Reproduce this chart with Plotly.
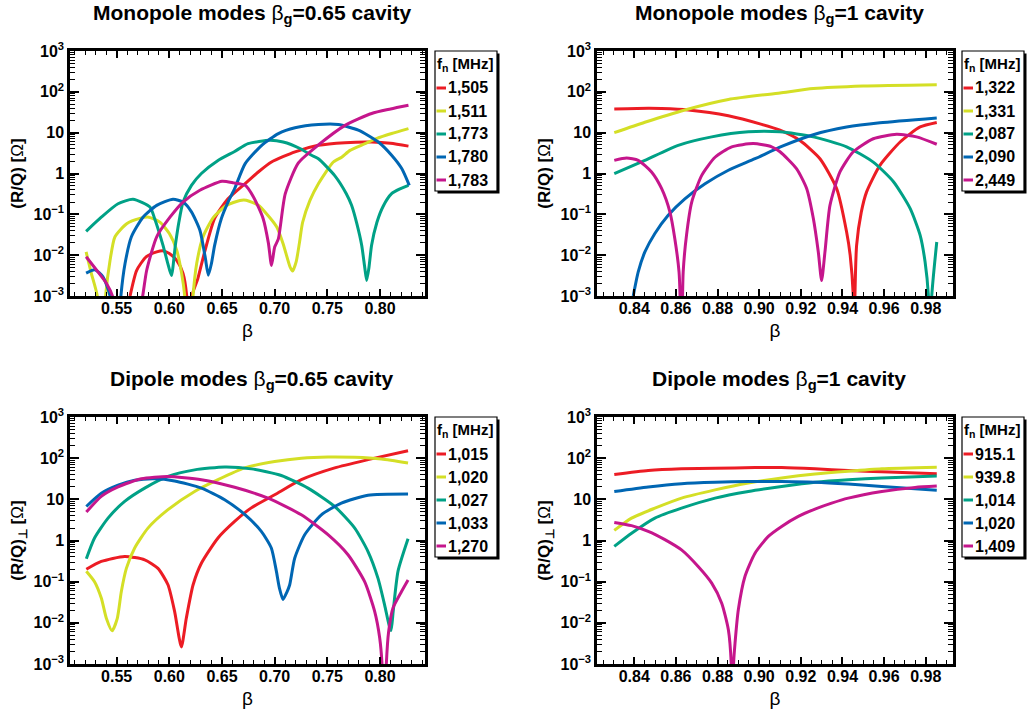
import plotly.graph_objects as go

W, H = 1030, 717
COLORS = ["#ec1c24", "#d4df26", "#00a186", "#0066b3", "#c5168c"]

# ---------------- Monopole modes, beta_g = 0.65 ----------------
mono065_freqs = ["1,505", "1,511", "1,773", "1,780", "1,783"]
mono065_x_1505 = [0.5627, 0.569, 0.578, 0.588, 0.5935, 0.600, 0.607, 0.613, 0.6165, 0.6195, 0.6215, 0.627, 0.6335,
                  0.643, 0.6557, 0.673, 0.685, 0.697, 0.7193, 0.7415, 0.7668, 0.792, 0.810, 0.827]
mono065_y_1505 = [0.001, 0.00427, 0.00912, 0.0120, 0.0129, 0.0110, 0.00741, 0.00355, 0.001, 1e-5, 0.001, 0.00263, 0.0120,
                  0.0794, 0.240, 0.60, 1.12, 1.91, 3.39, 4.90, 5.69, 5.89, 5.50, 4.68]
mono065_x_1511 = [0.521, 0.526, 0.5316, 0.5355, 0.5395, 0.5437, 0.5484, 0.5595, 0.572, 0.5805, 0.591, 0.600, 0.607,
                  0.6117, 0.6146, 0.6185, 0.6225, 0.626, 0.632, 0.642, 0.6544, 0.667, 0.673, 0.6845, 0.692, 0.702,
                  0.708, 0.7146, 0.717, 0.7205, 0.7235, 0.7265, 0.7335, 0.7415, 0.7557, 0.7636, 0.7715, 0.7858,
                  0.797, 0.811, 0.827]
mono065_y_1511 = [0.0120, 0.00355, 0.001, 1e-5, 0.001, 0.00741, 0.0282, 0.0589, 0.0794, 0.0851, 0.0646, 0.0339, 0.0132,
                  0.00355, 0.001, 1e-5, 0.001, 0.00631, 0.0282, 0.0851, 0.166, 0.219, 0.221, 0.166, 0.105, 0.0490,
                  0.0191, 0.00513, 0.00407, 0.00708, 0.0200, 0.0631, 0.219, 0.562, 1.91, 2.51, 3.69, 5.37,
                  7.24, 9.55, 12.6]
mono065_x_1773 = [0.521, 0.5354, 0.5513, 0.5655, 0.5816, 0.586, 0.594, 0.5985, 0.602, 0.6057, 0.609, 0.613, 0.621,
                  0.6304, 0.6462, 0.662, 0.6747, 0.6956, 0.708, 0.724, 0.735, 0.7415, 0.757, 0.768, 0.773, 0.778,
                  0.7826, 0.7855, 0.7873, 0.7895, 0.792, 0.797, 0.803, 0.811, 0.819, 0.827]
mono065_y_1773 = [0.0384, 0.0851, 0.182, 0.233, 0.151, 0.0794, 0.0174, 0.0063, 0.00316, 0.0174, 0.063, 0.200, 0.513,
                  1.0, 2.09, 3.47, 5.37, 6.49, 5.9, 4.1, 2.79, 2.29, 0.89, 0.32, 0.166, 0.0589,
                  0.0174, 0.0050, 0.0024, 0.0050, 0.0174, 0.063, 0.158, 0.32, 0.42, 0.513]
mono065_x_1780 = [0.521, 0.5294, 0.537, 0.5437, 0.549, 0.554, 0.558, 0.564, 0.575, 0.588, 0.6035, 0.613, 0.621, 0.629,
                  0.634, 0.637, 0.640, 0.643, 0.6494, 0.6557, 0.662, 0.672, 0.6877, 0.7035, 0.7193, 0.7415, 0.7604,
                  0.7794, 0.7984, 0.811, 0.8206, 0.8278]
mono065_y_1780 = [0.00363, 0.00437, 0.00295, 0.001, 1e-5, 0.001, 0.00631, 0.0282, 0.0851, 0.166, 0.234, 0.2, 0.115, 0.0407,
                  0.00912, 0.00324, 0.00631, 0.0174, 0.0794, 0.2, 0.427, 1.74, 4.9, 9.5, 13.2, 15.8, 15.8,
                  11.5, 5.9, 2.8, 1.32, 0.513]
mono065_x_1783 = [0.521, 0.531, 0.5405, 0.546, 0.560, 0.5747, 0.5785, 0.588, 0.6006, 0.613, 0.629, 0.650, 0.661, 0.672,
                  0.680, 0.689, 0.694, 0.697, 0.700, 0.7035, 0.710, 0.7225, 0.7415, 0.7668, 0.792, 0.810, 0.827]
mono065_y_1783 = [0.00912, 0.00427, 0.002, 0.001, 1e-5, 0.001, 0.00427, 0.0282, 0.0851, 0.2, 0.389, 0.646, 0.589, 0.513,
                  0.263, 0.0794, 0.02, 0.00562, 0.0158, 0.0251, 0.316, 1.82, 5.0, 15.1, 29.5, 38.0, 46.8]

# ---------------- Monopole modes, beta_g = 1 ----------------
mono1_freqs = ["1,322", "1,331", "2,087", "2,090", "2,449"]
mono1_x_1322 = [0.8304, 0.8467, 0.8531, 0.866, 0.8852, 0.9012, 0.910, 0.9196, 0.9292, 0.9372, 0.942, 0.9437, 0.9452,
                0.9456, 0.946, 0.9468, 0.949, 0.9516, 0.958, 0.9677, 0.9773, 0.9853]
mono1_y_1322 = [38.0, 39.5, 39.0, 36.0, 26.0, 16.0, 11.5, 6.4, 2.3, 0.43, 0.037, 0.01, 0.001,
                1e-5, 0.001, 0.0174, 0.11, 0.355, 1.58, 5.9, 13.8, 17.8]
mono1_x_1331 = [0.8304, 0.8451, 0.8643, 0.8852, 0.910, 0.926, 0.950, 0.9853]
mono1_y_1331 = [10.0, 18.0, 36.0, 65.0, 94.0, 120.0, 139.0, 150.0]
mono1_x_2087 = [0.8304, 0.8451, 0.8611, 0.8772, 0.8948, 0.910, 0.926, 0.942, 0.9548, 0.9645, 0.9725, 0.9773, 0.9797,
                0.9813, 0.982, 0.9829, 0.9853]
mono1_y_2087 = [0.99, 2.1, 4.9, 7.9, 10.5, 10.5, 7.9, 4.5, 1.9, 0.63, 0.14, 0.031, 0.0068,
                0.001, 1e-5, 0.001, 0.021]
mono1_x_2090 = [0.8395, 0.8419, 0.8451, 0.8499, 0.8563, 0.8643, 0.874, 0.8852, 0.898, 0.9108, 0.926, 0.942, 0.958, 0.9853]
mono1_y_2090 = [0.001, 0.0039, 0.012, 0.034, 0.095, 0.24, 0.56, 1.2, 2.3, 4.6, 8.9, 13.7, 17.5, 23.0]
mono1_x_2449 = [0.8304, 0.8363, 0.8419, 0.8483, 0.8531, 0.8571, 0.8595, 0.8615, 0.8620, 0.8626, 0.8632, 0.8635, 0.8651,
                0.8676, 0.8724, 0.8788, 0.8868, 0.8972, 0.906, 0.910, 0.918, 0.9228, 0.926, 0.9284, 0.930, 0.9316,
                0.934, 0.9388, 0.9452, 0.9548, 0.966, 0.9756, 0.9853]
mono1_y_2449 = [2.1, 2.4, 2.1, 1.09, 0.43, 0.115, 0.025, 0.0039, 0.001, 1e-5, 0.001, 0.0039, 0.031,
                0.2, 0.9, 2.5, 4.5, 5.4, 4.5, 3.4, 1.3, 0.43, 0.08, 0.012, 0.0024, 0.012,
                0.166, 1.09, 3.4, 7.1, 9.1, 7.9, 5.2]

# ---------------- Dipole modes, beta_g = 0.65 ----------------
dip065_freqs = ["1,015", "1,020", "1,027", "1,033", "1,270"]
dip065_x_1015 = [0.5212, 0.5354, 0.5576, 0.5766, 0.5892, 0.5987, 0.605, 0.6114, 0.6161, 0.6225, 0.6304, 0.6462, 0.662,
                 0.6778, 0.700, 0.7253, 0.757, 0.7886, 0.8266]
dip065_y_1015 = [0.2, 0.31, 0.41, 0.34, 0.21, 0.084, 0.019, 0.0026, 0.0129, 0.083, 0.28, 1.15, 2.9,
                 6.2, 12.9, 30.0, 58.0, 92.0, 152.0]
dip065_x_1020 = [0.5212, 0.529, 0.5354, 0.5402, 0.5456, 0.5506, 0.5544, 0.5592, 0.5671, 0.5797, 0.5987, 0.624, 0.6462,
                 0.6715, 0.700, 0.7253, 0.7506, 0.776, 0.8013, 0.8266]
dip065_y_1020 = [0.18, 0.1, 0.04, 0.0129, 0.0064, 0.0129, 0.057, 0.21, 0.66, 2.0, 5.6, 15.5, 30.0,
                 58.0, 83.0, 100.0, 107.0, 105.0, 95.0, 76.0]
dip065_x_1027 = [0.5212, 0.529, 0.5418, 0.5576, 0.5766, 0.5987, 0.624, 0.6525, 0.6778, 0.7063, 0.7316, 0.757, 0.776,
                 0.7886, 0.7981, 0.8044, 0.8085, 0.8105, 0.8125, 0.8171, 0.8266]
dip065_y_1027 = [0.36, 1.15, 3.5, 8.9, 18.7, 36.0, 52.0, 61.0, 55.0, 38.0, 18.7, 6.7, 2.0,
                 0.54, 0.12, 0.027, 0.009, 0.0065, 0.019, 0.18, 1.1]
dip065_x_1033 = [0.5212, 0.5354, 0.5513, 0.5671, 0.586, 0.605, 0.6304, 0.6525, 0.6715, 0.6873, 0.6968, 0.7016, 0.7045,
                 0.7079, 0.7115, 0.7142, 0.719, 0.7285, 0.7443, 0.7633, 0.7886, 0.8266]
dip065_y_1033 = [6.7, 14.0, 22.0, 29.0, 31.6, 28.0, 18.7, 9.8, 4.3, 1.67, 0.66, 0.18, 0.07,
                 0.037, 0.055, 0.083, 0.37, 1.38, 4.2, 8.1, 12.6, 13.5]
dip065_x_1270 = [0.5212, 0.5354, 0.5513, 0.5734, 0.5987, 0.6304, 0.662, 0.6937, 0.7253, 0.7506, 0.7696, 0.7854, 0.7949,
                 0.7997, 0.8019, 0.804, 0.806, 0.8082, 0.8123, 0.8203, 0.8266]
dip065_y_1270 = [4.9, 11.8, 20.0, 31.6, 36.0, 30.0, 19.6, 10.7, 4.2, 1.38, 0.45, 0.1, 0.019,
                 0.0043, 0.001, 1e-5, 0.001, 0.0062, 0.023, 0.057, 0.11]

# ---------------- Dipole modes, beta_g = 1 ----------------
dip1_freqs = ["915.1", "939.8", "1,014", "1,020", "1,409"]
dip1_x_9151 = [0.8304, 0.8467, 0.8627, 0.8788, 0.898, 0.9108, 0.9268, 0.9428, 0.9589, 0.9853]
dip1_y_9151 = [40.0, 50.0, 55.0, 57.0, 59.0, 59.0, 55.0, 50.0, 47.0, 42.0]
dip1_x_9398 = [0.8304, 0.8387, 0.8499, 0.8627, 0.8788, 0.8948, 0.9108, 0.9268, 0.9428, 0.9589, 0.9853]
dip1_y_9398 = [1.76, 3.5, 6.1, 10.7, 17.0, 25.0, 33.0, 41.0, 48.0, 55.0, 60.0]
dip1_x_1014 = [0.8304, 0.8387, 0.8499, 0.8627, 0.8788, 0.8948, 0.9108, 0.9268, 0.9428, 0.9589, 0.9853]
dip1_y_1014 = [0.72, 1.5, 3.5, 6.1, 10.7, 15.5, 20.5, 26.0, 30.0, 33.0, 37.0]
dip1_x_1020 = [0.8304, 0.8467, 0.8627, 0.8788, 0.8948, 0.9108, 0.9268, 0.9428, 0.9589, 0.9853]
dip1_y_1020 = [15.5, 20.0, 24.0, 26.0, 27.0, 27.0, 26.0, 23.5, 20.5, 16.6]
dip1_x_1409 = [0.8304, 0.8387, 0.8467, 0.8547, 0.8627, 0.8708, 0.8772, 0.882, 0.8852, 0.8866, 0.8871, 0.8877, 0.8884,
               0.890, 0.8932, 0.898, 0.9044, 0.9108, 0.9188, 0.9268, 0.9348, 0.9428, 0.9589, 0.9749, 0.9853]
dip1_y_1409 = [2.75, 2.3, 1.67, 1.05, 0.59, 0.23, 0.092, 0.03, 0.0068, 0.001, 1e-5, 0.001, 0.0032,
               0.021, 0.135, 0.49, 1.26, 2.2, 3.85, 5.8, 8.1, 10.7, 15.5, 19.5, 21.0]

ytick_vals = [1e-3, 1e-2, 1e-1, 1, 10, 100, 1000]
ytick_text = ["10<sup>\u22123</sup>", "10<sup>\u22122</sup>", "10<sup>\u22121</sup>", "1", "10",
              "10<sup>2</sup>", "10<sup>3</sup>"]

FONT = "Liberation Sans"
NORMAL = "<span style='font-weight:normal'>"

panels = [
    dict(title="Monopole modes " + NORMAL + "\u03b2</span><sub>g</sub>=0.65 cavity",
         ytitle="(R/Q) [" + NORMAL + "\u03a9</span>]",
         freqs=mono065_freqs,
         series=[(mono065_x_1505, mono065_y_1505), (mono065_x_1511, mono065_y_1511),
                 (mono065_x_1773, mono065_y_1773), (mono065_x_1780, mono065_y_1780),
                 (mono065_x_1783, mono065_y_1783)],
         xr=[0.5057, 0.8427], tick0=0.5, dtick=0.05, minor=0.01,
         box=(70, 425, 51, 296), leg=(435, 497, 51, 191), ty=14),
    dict(title="Monopole modes " + NORMAL + "\u03b2</span><sub>g</sub>=1 cavity",
         ytitle="(R/Q) [" + NORMAL + "\u03a9</span>]",
         freqs=mono1_freqs,
         series=[(mono1_x_1322, mono1_y_1322), (mono1_x_1331, mono1_y_1331),
                 (mono1_x_2087, mono1_y_2087), (mono1_x_2090, mono1_y_2090),
                 (mono1_x_2449, mono1_y_2449)],
         xr=[0.8221, 0.9931], tick0=0.84, dtick=0.02, minor=0.005,
         box=(597, 953, 51, 296), leg=(962, 1024, 51, 191), ty=14),
    dict(title="Dipole modes " + NORMAL + "\u03b2</span><sub>g</sub>=0.65 cavity",
         ytitle="(R/Q)<sub>\u22a5</sub> [" + NORMAL + "\u03a9</span>]",
         freqs=dip065_freqs,
         series=[(dip065_x_1015, dip065_y_1015), (dip065_x_1020, dip065_y_1020),
                 (dip065_x_1027, dip065_y_1027), (dip065_x_1033, dip065_y_1033),
                 (dip065_x_1270, dip065_y_1270)],
         xr=[0.5057, 0.8427], tick0=0.5, dtick=0.05, minor=0.01,
         box=(70, 425, 417, 664), leg=(435, 497, 417, 557), ty=380),
    dict(title="Dipole modes " + NORMAL + "\u03b2</span><sub>g</sub>=1 cavity",
         ytitle="(R/Q)<sub>\u22a5</sub> [" + NORMAL + "\u03a9</span>]",
         freqs=dip1_freqs,
         series=[(dip1_x_9151, dip1_y_9151), (dip1_x_9398, dip1_y_9398),
                 (dip1_x_1014, dip1_y_1014), (dip1_x_1020, dip1_y_1020),
                 (dip1_x_1409, dip1_y_1409)],
         xr=[0.8221, 0.9931], tick0=0.84, dtick=0.02, minor=0.005,
         box=(597, 953, 417, 664), leg=(962, 1024, 417, 557), ty=380),
]


def fx(p):
    return p / W


def fy(p):
    return 1 - p / H


minor_y = [m * 10.0 ** e for e in range(-3, 3) for m in range(2, 10)]

fig = go.Figure()
shapes = []
annotations = []

for i, p in enumerate(panels):
    n = "" if i == 0 else str(i + 1)
    x0, x1, y0, y1 = p["box"]
    for k, (xs, ys) in enumerate(p["series"]):
        fig.add_trace(go.Scatter(x=xs, y=ys, mode="lines", name=p["freqs"][k],
                                 line=dict(color=COLORS[k], width=3, shape="spline", smoothing=0.6),
                                 xaxis="x" + n, yaxis="y" + n, showlegend=False))
    fig.layout["xaxis" + n] = dict(
        domain=[fx(x0), fx(x1)], anchor="y" + n, range=p["xr"],
        tickmode="linear", tick0=p["tick0"], dtick=p["dtick"], tickformat=".2f",
        ticks="inside", ticklen=7, tickwidth=1.5, tickcolor="black",
        minor=dict(ticks="inside", ticklen=4, tickwidth=1.2, tickcolor="black", dtick=p["minor"], showgrid=False),
        showline=True, linewidth=2.5, linecolor="black", mirror="allticks",
        showgrid=False, zeroline=False, automargin=False, ticklabelstandoff=-4,
        tickfont=dict(family=FONT, size=16, color="black", weight="bold"),
        title=dict(text="\u03b2", font=dict(family=FONT, size=19, color="black"), standoff=8),
    )
    fig.layout["yaxis" + n] = dict(
        domain=[fy(y1), fy(y0)], anchor="x" + n, type="log", range=[-3, 3],
        tickmode="array", tickvals=ytick_vals, ticktext=ytick_text,
        ticks="inside", ticklen=9, tickwidth=1.5, tickcolor="black",
        minor=dict(ticks="inside", ticklen=5, tickwidth=1.2, tickcolor="black", tickmode="array",
                   tickvals=minor_y, showgrid=False),
        showline=True, linewidth=2.5, linecolor="black", mirror="allticks",
        showgrid=False, zeroline=False, automargin=False,
        tickfont=dict(family=FONT, size=16, color="black", weight="bold"),
        title=dict(text=p["ytitle"], font=dict(family=FONT, size=17, color="black", weight="bold"), standoff=6),
    )
    # panel title
    annotations.append(dict(text=p["title"], xref="paper", yref="paper", x=fx((x0 + x1) / 2 + 4), y=fy(p["ty"]),
                            xanchor="center", yanchor="middle", showarrow=False,
                            font=dict(family=FONT, size=21, color="black", weight="bold")))
    # legend box
    lx0, lx1, ly0, ly1 = p["leg"]
    shapes.append(dict(type="rect", xref="paper", yref="paper", x0=fx(lx0 + 2.5), x1=fx(lx1 + 2.5),
                       y0=fy(ly1 + 2.5), y1=fy(ly0 + 2.5), fillcolor="black", line=dict(width=0)))
    shapes.append(dict(type="rect", xref="paper", yref="paper", x0=fx(lx0), x1=fx(lx1),
                       y0=fy(ly1), y1=fy(ly0), fillcolor="white", line=dict(color="black", width=1.2)))
    annotations.append(dict(text="f<sub>n</sub> [MHz]", xref="paper", yref="paper", x=fx(lx0), y=fy(ly0 + 13),
                            xanchor="left", yanchor="middle", showarrow=False,
                            font=dict(family=FONT, size=15, color="black", weight="bold")))
    for k, name in enumerate(p["freqs"]):
        yy = ly0 + 37 + k * 23
        shapes.append(dict(type="line", xref="paper", yref="paper", x0=fx(lx0 + 1.5), x1=fx(lx0 + 11),
                           y0=fy(yy), y1=fy(yy), line=dict(color=COLORS[k], width=3)))
        annotations.append(dict(text=name, xref="paper", yref="paper", x=fx(lx0 + 11), y=fy(yy),
                                xanchor="left", yanchor="middle", showarrow=False,
                                font=dict(family=FONT, size=16, color="black", weight="bold")))

fig.update_layout(width=W, height=H, margin=dict(l=0, r=0, t=0, b=0),
                  paper_bgcolor="white", plot_bgcolor="white",
                  shapes=shapes, annotations=annotations, showlegend=False)

fig.write_html("out.html", config={"displayModeBar": False},
               post_script="document.body.style.margin='0';document.body.style.overflow='hidden';")
